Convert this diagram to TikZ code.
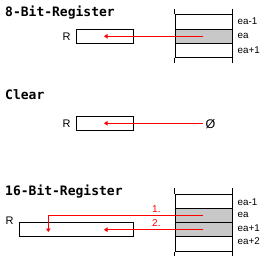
\documentclass[tikz,border=0pt]{standalone}
\usepackage{fontspec}
\setmainfont{Liberation Sans}
\newfontfamily\titlefont{DejaVu Sans Mono}
\usetikzlibrary{arrows.meta}
\definecolor{cellgray}{RGB}{200,200,200}
\definecolor{arrowred}{RGB}{255,0,0}
\begin{document}
\begin{tikzpicture}[x=1pt,y=-1pt,
  title/.style={anchor=base west,inner sep=0pt,font=\titlefont\bfseries\fontsize{13}{13}\selectfont},
  lbl/.style={anchor=base west,inner sep=0pt,font=\fontsize{9.8}{9.8}\selectfont},
  rlbl/.style={inner sep=0pt,font=\fontsize{11}{11}\selectfont},
  regbox/.style={draw,line width=1pt,inner sep=0pt},
  cell/.style={draw,line width=1pt,inner sep=0pt,minimum width=57pt},
  stub/.style={line width=1pt},
  flow/.style={draw=arrowred,line width=1pt,-{Triangle[length=3.5pt,width=4.5pt]}},
  num/.style={anchor=base west,inner sep=0pt,text=arrowred,font=\fontsize{10}{10}\selectfont}]
\useasboundingbox (0,0) rectangle (278,270);
\fill[white] (0,0) rectangle (278,270);

% ---------- 8-Bit-Register ----------
\node[title] (t1) at (5,17) {8-Bit-Register};
\node[regbox,minimum width=57.4pt,minimum height=14pt] (r1) at (105,36.3) {};
\node[rlbl] (rl1) at (66.5,36.3) {R};
\node[cell,minimum height=15pt] (a1) at (203.5,21.8) {};
\node[cell,minimum height=14pt,fill=cellgray] (a2) at (203.5,36.3) {};
\node[cell,minimum height=14.4pt] (a3) at (203.5,50.5) {};
\draw[stub] (a1.north west) -- ++(0,-5);
\draw[stub] (a1.north east) -- ++(0,-5);
\draw[stub] (a3.south west) -- ++(0,5);
\draw[stub] (a3.south east) -- ++(0,5);
\node[lbl] (e1) at (237.5,24.5) {ea-1};
\node[lbl] (e2) at (237.5,38.7) {ea};
\node[lbl] (e3) at (237.5,53) {ea+1};
\coordinate (s1) at (203,36.3);
\coordinate (d1) at (104,36.3);
\draw[flow] (s1) -- (d1);

% ---------- Clear ----------
\node[title] (t2) at (5,99) {Clear};
\node[regbox,minimum width=57.4pt,minimum height=14pt] (r2) at (105,123.3) {};
\node[rlbl] (rl2) at (66.5,123.3) {R};
\node[inner sep=0pt,font=\fontsize{12.5}{12.5}\selectfont] (z) at (210.5,124.3) {Ø};
\coordinate (s2) at (203,123.3);
\coordinate (d2) at (104,123.3);
\draw[flow] (s2) -- (d2);

% ---------- 16-Bit-Register ----------
\node[title] (t3) at (5,195) {16-Bit-Register};
\node[rlbl] (rl3) at (9.7,221) {R};
\node[regbox,minimum width=114.4pt,minimum height=14pt] (r3) at (76.5,229.3) {};
\node[cell,minimum height=14pt] (b1) at (203.5,201.3) {};
\node[cell,minimum height=14pt,fill=cellgray] (b2) at (203.5,215.3) {};
\node[cell,minimum height=14.4pt,fill=cellgray] (b3) at (203.5,229.5) {};
\node[cell,minimum height=14.3pt] (b4) at (203.5,243.85) {};
\draw[stub] (b1.north west) -- ++(0,-6.3);
\draw[stub] (b1.north east) -- ++(0,-6.3);
\draw[stub] (b4.south west) -- ++(0,4);
\draw[stub] (b4.south east) -- ++(0,4);
\node[lbl] (f1) at (237.5,205) {ea-1};
\node[lbl] (f2) at (237.5,217.3) {ea};
\node[lbl] (f3) at (237.5,231) {ea+1};
\node[lbl] (f4) at (237.5,244.7) {ea+2};
\coordinate (s3) at (203,215.3);
\coordinate (k3) at (48.3,215.3);
\coordinate (d3) at (48.3,232);
\draw[flow] (s3) -- (k3) -- (d3);
\node[num] (n1) at (152,212.3) {1.};
\coordinate (s4) at (203,229.7);
\coordinate (d4) at (104,229.7);
\draw[flow] (s4) -- (d4);
\node[num] (n2) at (152,226.7) {2.};
\end{tikzpicture}
\end{document}
